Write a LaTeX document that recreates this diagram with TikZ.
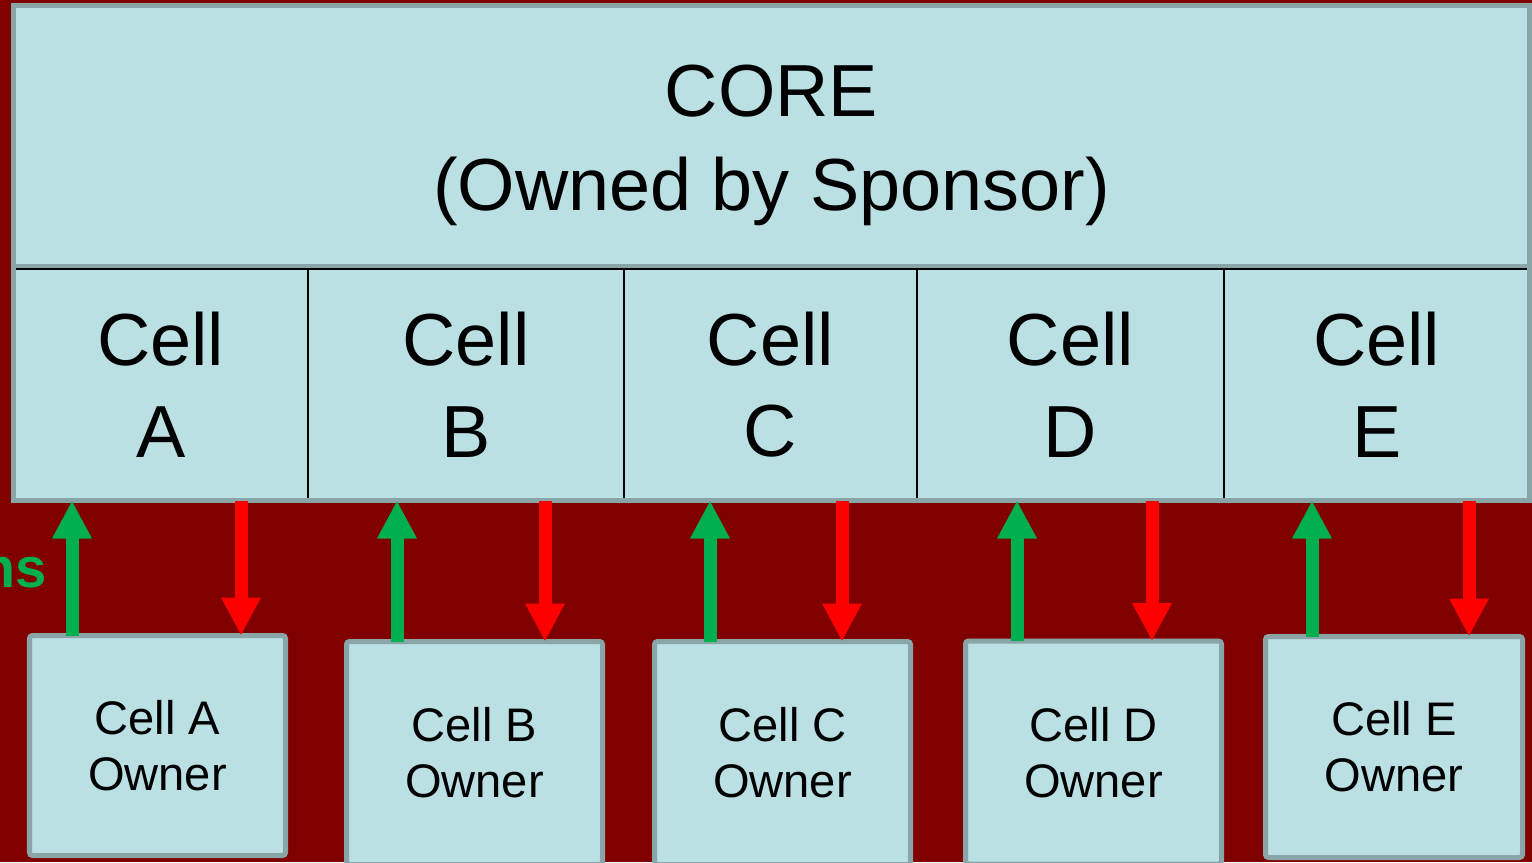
\documentclass[tikz,border=0pt]{standalone}
\usepackage{fontspec}
\setmainfont{Liberation Sans}
\usetikzlibrary{arrows.meta, positioning}

\definecolor{slide}{HTML}{800000}
\definecolor{boxfill}{HTML}{BAE0E3}
\definecolor{boxline}{HTML}{8AA5A8}
\definecolor{upgreen}{HTML}{00B050}

\begin{document}
\begin{tikzpicture}[
    % Define styles
    corebox/.style={
        rectangle,
        draw=boxline,
        fill=boxfill,
        line width=0.05cm,
        outer sep=0pt,
        inner sep=0pt,
        minimum width=15.16cm,
        minimum height=2.605cm
    },
    coretext/.style={
        align=center,
        font=\fontsize{21}{26.7}\selectfont
    },
    cellbox/.style={
        rectangle,
        draw=black,
        fill=boxfill,
        line width=0.013cm,
        outer sep=0pt,
        inner sep=0pt,
        minimum height=2.315cm,
        align=center,
        font=\fontsize{21}{26}\selectfont
    },
    ownerbox/.style={
        rectangle,
        draw=boxline,
        fill=boxfill,
        line width=0.05cm,
        rounded corners=0.03cm,
        outer sep=0pt,
        minimum width=2.56cm,
        align=center,
        font=\fontsize{13.4}{16}\selectfont
    },
    frame/.style={
        draw=boxline,
        line width=0.05cm
    },
    uparrow/.style={
        draw=upgreen,
        line width=0.13cm,
        -{Triangle[width=0.37cm, length=0.38cm]}
    },
    downarrow/.style={
        draw=red,
        line width=0.13cm,
        -{Triangle[width=0.37cm, length=0.38cm]}
    }
]

% Background
\useasboundingbox (0,0) rectangle (15.32,-8.62);
\fill[slide] (0,0) rectangle (15.32,-8.62);

% Core on top
\node[corebox, label={[coretext, yshift=-0.1cm]center:CORE\\(Owned by Sponsor)}] (core) at (7.715,-1.3575) {};

% Row of cells under the core
\node[cellbox, minimum width=2.945cm, anchor=north west] (cella) at ([yshift=-0.03cm]core.south west) {Cell\\A};
\node[cellbox, minimum width=3.16cm, right=0pt of cella] (cellb) {Cell\\B};
\node[cellbox, minimum width=2.93cm, right=0pt of cellb] (cellc) {Cell\\C};
\node[cellbox, minimum width=3.07cm, right=0pt of cellc] (celld) {Cell\\D};
\node[cellbox, minimum width=3.055cm, right=0pt of celld] (celle) {Cell\\E};

% Outer frame round core and cells
\draw[frame] (core.north west) rectangle (celle.south east);

% Owners at the bottom
\node[ownerbox, minimum height=2.2cm] (ownera) at (1.575,-7.455) {Cell A\\Owner};
\node[ownerbox, minimum height=2.23cm] (ownerb) at (4.745,-7.53) {Cell B\\Owner};
\node[ownerbox, minimum height=2.23cm] (ownerc) at (7.825,-7.53) {Cell C\\Owner};
\node[ownerbox, minimum height=2.23cm] (ownerd) at (10.935,-7.525) {Cell D\\Owner};
\node[ownerbox, minimum width=2.57cm, minimum height=2.21cm] (ownere) at (13.94,-7.47) {Cell E\\Owner};

% Side label
\node[anchor=base east, inner sep=0pt, text=upgreen, font=\fontsize{16}{19}\selectfont\bfseries] (side) at (0.47,-5.87) {ms};

% Arrows between owners and cells
\foreach \n/\gx/\rx in {a/0.72/2.41, b/3.97/5.45, c/7.10/8.42, d/10.17/11.52, e/13.12/14.69} {
    \draw[uparrow] (\gx,0 |- owner\n.north) -- (\gx,0 |- cell\n.south);
    \draw[downarrow] (\rx,0 |- cell\n.south) -- (\rx,0 |- owner\n.north);
}

\end{tikzpicture}
\end{document}
